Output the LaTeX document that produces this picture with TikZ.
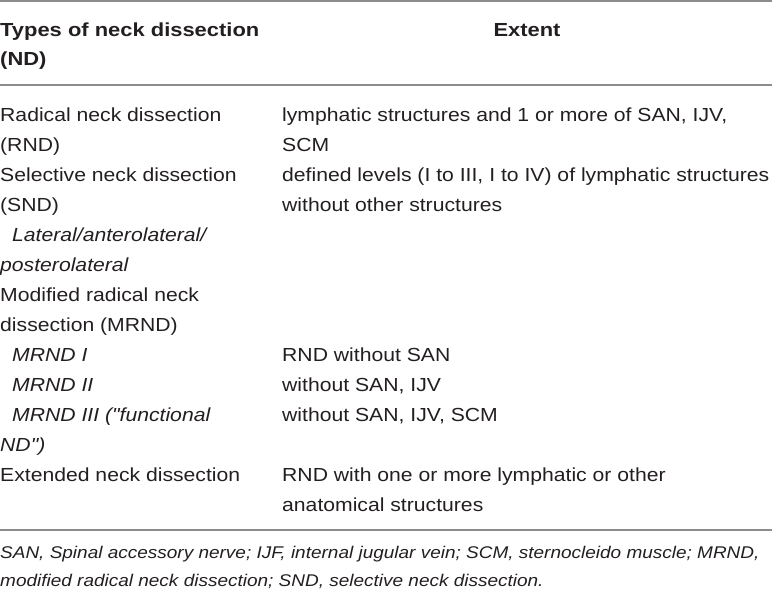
\documentclass[tikz,border=0pt]{standalone}
\usepackage{fontspec}
\setmainfont{Liberation Sans}[FakeStretch=1.12, Ligatures=TeXOff, BoldFeatures={FakeStretch=1.16}]
\definecolor{txt}{HTML}{231F20}
\definecolor{rule}{HTML}{8C8C8C}
\tikzset{
  cell/.style={anchor=base west, inner sep=0pt, text=txt, font=\fontsize{18.9}{22}\selectfont},
  sub/.style={cell, font=\fontsize{18.9}{22}\selectfont\itshape},
  head/.style={cell, font=\fontsize{18.9}{22}\selectfont\bfseries},
  note/.style={cell, font=\fontsize{16.95}{22}\selectfont\itshape},
  hrule/.style={draw=rule, line width=1.3pt}
}
\begin{document}
\begin{tikzpicture}[x=1pt,y=-1pt]
\useasboundingbox (0,0) rectangle (772,590);
% rules
\draw[hrule] (0,1) -- (772,1);
\draw[hrule] (0,85) -- (772,85);
\draw[hrule] (0,530) -- (772,530);
% header
\node[head] (h1) at (0,36) {Types of neck dissection};
\node[head] (h2) at (0,65) {(ND)};
\node[head, anchor=base] (h3) at (527,36) {Extent};
% left column
\node[cell] (a1) at (0,121) {Radical neck dissection};
\node[cell] (a2) at (0,151) {(RND)};
\node[cell] (a3) at (0,181) {Selective neck dissection};
\node[cell] (a4) at (0,211) {(SND)};
\node[sub] (a5) at (12,241) {Lateral/anterolateral/};
\node[sub] (a6) at (0,271) {posterolateral};
\node[cell] (a7) at (0,301) {Modified radical neck};
\node[cell] (a8) at (0,331) {dissection (MRND)};
\node[sub] (a9) at (12,361) {MRND I};
\node[sub] (a10) at (12,391) {MRND II};
\node[sub] (a11) at (12,421) {MRND III ("functional};
\node[sub] (a12) at (0,451) {ND")};
\node[cell] (a13) at (0,481) {Extended neck dissection};
% right column
\node[cell] (b1) at (282,121) {lymphatic structures and 1 or more of SAN, IJV,};
\node[cell] (b2) at (282,151) {SCM};
\node[cell] (b3) at (282,181) {defined levels (I to III, I to IV) of lymphatic structures};
\node[cell] (b4) at (282,211) {without other structures};
\node[cell] (b9) at (282,361) {RND without SAN};
\node[cell] (b10) at (282,391) {without SAN, IJV};
\node[cell] (b11) at (282,421) {without SAN, IJV, SCM};
\node[cell] (b13) at (282,481) {RND with one or more lymphatic or other};
\node[cell] (b14) at (282,511) {anatomical structures};
% footnote
\node[note] (f1) at (0,558) {SAN, Spinal accessory nerve; IJF, internal jugular vein; SCM, sternocleido muscle; MRND,};
\node[note] (f2) at (0,586) {modified radical neck dissection; SND, selective neck dissection.};
\end{tikzpicture}
\end{document}
